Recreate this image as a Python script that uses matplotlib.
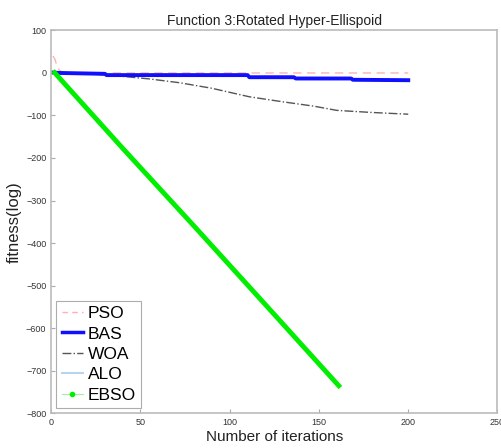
import matplotlib.pyplot as plt
from matplotlib.lines import Line2D

plt.rcParams['font.family'] = ['Liberation Sans', 'DejaVu Sans']

# convergence curves (fitness, log scale values) sampled at key iterations
pso_iter = [1, 2, 3, 4, 5, 7, 10, 20, 200]
pso_fit = [40, 33, 20, 10, 5, 2, 1, 0, 0]

bas_iter = [1, 5, 30, 31, 110, 111, 136, 137, 168, 169, 200]
bas_fit = [1, 0, -2, -5, -5, -10, -10, -13, -13, -16, -17]

woa_iter = [1, 10, 25, 40, 55, 72, 90, 111, 130, 147, 160, 180, 200]
woa_fit = [0, -1, -3, -8, -14, -23, -36, -56, -68, -78, -88, -93, -97]

alo_iter = [1, 30, 31, 110, 111, 136, 137, 168, 169, 200]
alo_fit = [1, -2, -4, -4, -9, -9, -12, -12, -15, -16]

ebso_iter = [1, 40, 80, 120, 162]
ebso_fit = [5, -177, -360, -545, -740]

fig = plt.figure(figsize=(5.02, 4.48), dpi=100)
ax = fig.add_axes([0.102, 0.078, 0.889, 0.854])

ax.plot(alo_iter, alo_fit, color='#b8d4ee', lw=1.5)
ax.plot(pso_iter, pso_fit, color='#ffb0b0', lw=1.0, ls=(0, (6, 4)))
ax.plot(woa_iter, woa_fit, color='#555555', lw=1.0, ls='-.')
ax.plot(bas_iter, bas_fit, color='#1010ff', lw=2.8)
ax.plot(ebso_iter, ebso_fit, color='#00ee00', lw=3.5, solid_capstyle='butt')

ax.set_xlim(0, 250)
ax.set_ylim(-800, 100)
ax.set_xticks(range(0, 251, 50))
ax.set_yticks(range(-800, 101, 100))
ax.tick_params(direction='in', labelsize=6.5, length=3, color='#aaaaaa', labelcolor='#333333')
for s in ax.spines.values():
    s.set_color('#bbbbbb')
    s.set_linewidth(1.2)

ax.set_title('Function 3:Rotated Hyper-Ellispoid', fontsize=10, color='#222222', pad=4)
ax.set_xlabel('Number of iterations', fontsize=11, color='#222222', labelpad=2)
ax.set_ylabel('fitness(log)', fontsize=12, color='#222222', labelpad=3)

handles = [
    Line2D([], [], color='#ffb0b0', lw=1.0, ls=(0, (4, 3))),
    Line2D([], [], color='#1010ff', lw=2.5),
    Line2D([], [], color='#555555', lw=1.0, ls='-.'),
    Line2D([], [], color='#b8d4ee', lw=1.5),
    Line2D([], [], color='#a0f0a0', lw=0.8, marker='.', markersize=6,
           markerfacecolor='#00ee00', markeredgecolor='#00ee00'),
]
leg = ax.legend(handles, ['PSO', 'BAS', 'WOA', 'ALO', 'EBSO'], loc='lower left',
                fontsize=12.5, frameon=True, fancybox=False, handlelength=1.25,
                handletextpad=0.25, labelspacing=0.3, borderpad=0.3,
                borderaxespad=0.3)
leg.get_frame().set_edgecolor('#999999')
leg.get_frame().set_linewidth(0.8)

fig.savefig('out.png', dpi=100)
